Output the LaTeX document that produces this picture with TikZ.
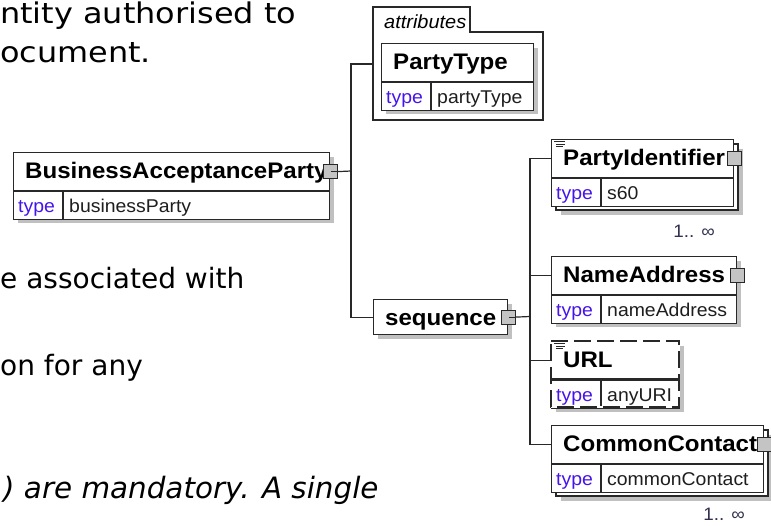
\documentclass[tikz,border=0pt]{standalone}
\usepackage{fontspec}
\newfontfamily\bodyfont{DejaVu Sans}
\newfontfamily\bodywide[FakeStretch=1.12]{DejaVu Sans}
\newfontfamily\arialfont[FakeStretch=1.05]{Liberation Sans}
\newfontfamily\titlefont[FakeStretch=1.07]{Liberation Sans}
\definecolor{typeblue}{RGB}{70,20,235}
\definecolor{linec}{RGB}{40,40,40}
\definecolor{shadowc}{RGB}{192,192,192}
\definecolor{expc}{RGB}{196,196,196}
\definecolor{multc}{RGB}{50,50,80}
\definecolor{valc}{RGB}{30,30,30}

\newcommand\xelem[6]{% name, x, y, width, title, type value
  \node[boxn,minimum width=#4,minimum height=38] (#1) at (#2,#3) {};
  \node[boxn,minimum width=#4,minimum height=28] (#1-row) at (#1.south west) {};
  \draw[conn] (#1-row.north west) -- (#1-row.north east);
  \draw[conn] ([xshift=50]#1-row.north west) -- ([xshift=50]#1-row.south west);
  \node[titlet] (#1-t) at ([xshift=12,yshift=-26]#1.north west) {#5};
  \node[typekw] (#1-k) at ([xshift=5,yshift=-21]#1-row.north west) {type};
  \node[typeval] (#1-v) at ([xshift=56,yshift=-21]#1-row.north west) {#6};
}
\newcommand\xshadow[4]{% x, y, w, h
  \fill[shadowc] (#1+5,#2+5) rectangle (#1+#3+5,#2+#4+5);
}
\newcommand\xannot[2]{% x, y of box corner
  \draw[line width=0.9pt,draw=linec] (#1+3,#2+2.5) -- (#1+14,#2+2.5)
    (#1+5,#2+5) -- (#1+14,#2+5) (#1+5,#2+7.5) -- (#1+12,#2+7.5);
}

\begin{document}
\begin{tikzpicture}[x=1pt,y=-1pt,
  boxn/.style={draw=linec, line width=1.2pt, fill=white, inner sep=0, anchor=north west},
  conn/.style={draw=linec, line width=1.2pt},
  titlet/.style={font=\titlefont\bfseries\fontsize{22.5}{22.5}\selectfont, inner sep=0, anchor=base west},
  typekw/.style={font=\arialfont\fontsize{18.5}{18.5}\selectfont, text=typeblue, inner sep=0, anchor=base west},
  typeval/.style={font=\arialfont\fontsize{18.5}{18.5}\selectfont, text=valc, inner sep=0, anchor=base west},
  expsq/.style={draw=linec, fill=expc, line width=1.1pt, minimum size=14pt, inner sep=0},
  body/.style={font=\bodyfont\fontsize{28}{28}\selectfont, inner sep=0, anchor=base west},
  bodybig/.style={font=\bodywide\fontsize{28.5}{28.5}\selectfont, inner sep=0, anchor=base west},
  multl/.style={font=\arialfont\fontsize{18}{18}\selectfont, text=multc, inner sep=0, anchor=base east},
  attrl/.style={font=\arialfont\itshape\fontsize{19}{19}\selectfont, inner sep=0, anchor=base west},
]
\path[use as bounding box, clip] (0,0) rectangle (771,525);
\fill[white] (0,0) rectangle (771,525);

% body text
\node[bodybig] (l1) at (0,23) {ntity authorised to};
\node[bodybig] (l2) at (0,62) {ocument.};
\node[body] (l3) at (0,288) {e associated with};
\node[body] (l4) at (0,375) {on for any};
\node[body,font=\bodyfont\itshape\fontsize{29.4}{29.4}\selectfont] (l5) at (3,498) {) are mandatory. A single};

% BusinessAcceptanceParty
\xshadow{13}{152}{316}{66}
\xelem{bap}{13}{152}{316}{BusinessAcceptanceParty}{businessParty}
\node[expsq] (bap-x) at (bap.east) {};
\draw[conn] ([xshift=1]bap-x.center) -- (bap-x.east);

% attributes container
\draw[conn] (373,120) -- (373,7) -- (470,7) -- (470,32) -- (543,32) -- (543,120) -- cycle;
\node[attrl] (attr-l) at (384,28) {attributes};
\coordinate (attr-in) at (373,64);
\xshadow{381}{43}{152}{66}
\xelem{pt}{381}{43}{152}{PartyType}{partyType}

% sequence
\fill[shadowc] (378,304) rectangle (512,339);
\node[boxn,minimum width=134,minimum height=35] (seq) at (373,299) {};
\node[titlet] (seq-t) at ([xshift=12,yshift=-26]seq.north west) {sequence};
\node[expsq] (seq-x) at (seq.east) {};
\draw[conn] ([xshift=1]seq-x.center) -- (seq-x.east);

% connectors from root
\coordinate (j1) at (351,171);
\draw[conn] (bap-x.east) -- (j1);
\draw[conn] (j1) |- (attr-in);
\draw[conn] (j1) |- (seq.west);

% PartyIdentifier (multiple)
\fill[shadowc] (561,149) rectangle (743,215);
\draw[conn,fill=white] (556,144) rectangle (738,210);
\xelem{pi}{551}{139}{182}{PartyIdentifier}{s60}
\xannot{551}{139}
\node[expsq] (pi-x) at (pi.east) {};
\node[multl] (pi-m) at (715,237) {1.. ∞};

% NameAddress
\xshadow{551}{256}{185}{66}
\xelem{na}{551}{256}{185}{NameAddress}{nameAddress}
\node[expsq] (na-x) at (na.east) {};

% URL (optional)
\xshadow{551}{341}{128}{66}
\xelem{url}{551}{341}{128}{URL}{anyURI}
\draw[white,line width=1.6pt] (551,341) rectangle (679,407);
\draw[conn,dash pattern=on 17pt off 6pt] (551,341) -- (679,341) -- (679,407) -- (551,407) -- cycle;
\draw[conn] (551,379) -- (679,379);
\xannot{551}{341}

% CommonContact (multiple)
\fill[shadowc] (561,435) rectangle (773,501);
\draw[conn,fill=white] (556,430) rectangle (768,496);
\xelem{cc}{551}{425}{212}{CommonContact}{commonContact}
\node[expsq] (cc-x) at (cc.east) {};
\node[multl] (cc-m) at (745,520) {1.. ∞};

% connectors from sequence
\coordinate (j2) at (530,316.5);
\draw[conn] (seq-x.east) -- (j2);
\draw[conn] (j2) |- (pi.west);
\draw[conn] (j2) |- (na.west);
\draw[conn] (j2) |- (url.west);
\draw[conn] (j2) |- (cc.west);
\end{tikzpicture}
\end{document}
